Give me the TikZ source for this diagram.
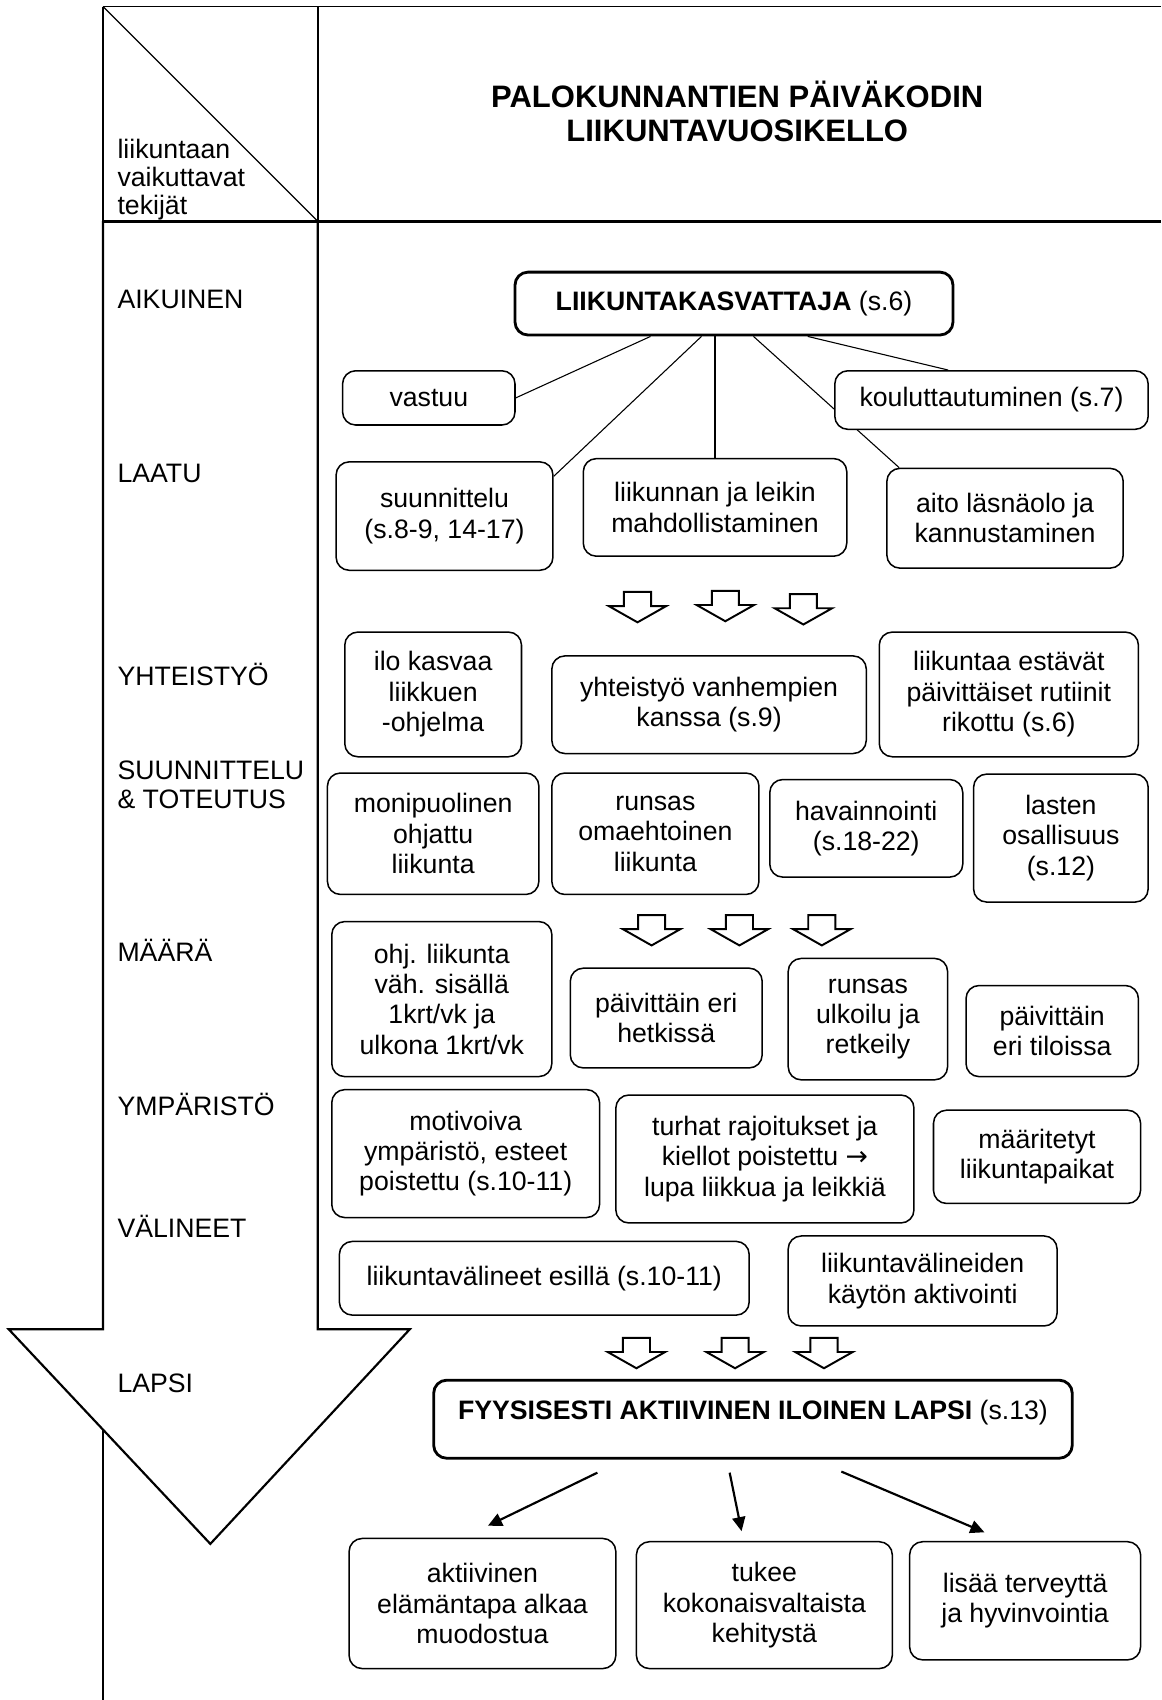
\documentclass[tikz,border=0pt]{standalone}
\usepackage{fontspec}
\setmainfont{Liberation Sans}
\newfontfamily\arrowfont{DejaVu Sans}
\usetikzlibrary{arrows.meta,backgrounds}

\begin{document}
\begin{tikzpicture}[x=0.5pt, y=-0.5pt,
    font=\fontsize{12.3}{14}\selectfont,
    box/.style={draw, rounded corners=6pt, line width=0.7pt, fill=white,
                align=center, inner sep=2pt},
    mainbox/.style={box, line width=1.3pt},
    factor/.style={anchor=base west, inner sep=0pt, align=left},
    branch/.style={line width=0.5pt},
    result/.style={line width=1pt, -{Triangle[length=6.5pt,width=6pt]}},
    downarrow/.pic={\draw[line width=0.9pt, fill=white]
        (-12.5,0) -- (12.5,0) -- (12.5,13) -- (26.5,13) -- (0,28)
        -- (-26.5,13) -- (-12.5,13) -- cycle;}]

  \useasboundingbox (0,0) rectangle (1071,1568);

  % table and the big arrow
  \draw[line width=0.8pt] (95,6) -- (95,1568);
  \draw[line width=1pt, fill=white] (95,204) -- (95,1226) -- (8,1226)
      -- (194,1424) -- (378,1226) -- (293,1226) -- (293,204);
  \draw[line width=0.9pt] (95,6) -- (1071,6);
  \draw[line width=0.8pt] (293,6) -- (293,204);
  \draw[line width=0.5pt] (95,6) -- (293,204);
  \draw[line width=1.3pt] (95,204) -- (1071,204);

  % base of a multi-line node = its last line
  \node[factor, font=\fontsize{12.3}{13}\selectfont] (tekijat) at (108,198)
      {liikuntaan\\vaikuttavat\\tekijät};
  \node[font=\bfseries\fontsize{14.3}{15.5}\selectfont, align=center] (otsikko)
      at (680,103) {PALOKUNNANTIEN PÄIVÄKODIN\\LIIKUNTAVUOSIKELLO};

  % factors
  \foreach \y/\t/\n in {285/AIKUINEN/aikuinen, 445/LAATU/laatu,
      632/YHTEISTYÖ/yhteistyo, 887/MÄÄRÄ/maara, 1029/YMPÄRISTÖ/ymparisto,
      1141/VÄLINEET/valineet, 1284/LAPSI/lapsi}
    \node[factor] (f-\n) at (108,\y) {\t};
  \node[factor, font=\fontsize{12.3}{13.5}\selectfont] (f-toteutus) at (108,746)
      {SUUNNITTELU\\\& TOTEUTUS};

  % adult
  \node[mainbox, minimum width=202pt, minimum height=29pt] (kasvattaja)
      at (677,280) {\textbf{LIIKUNTAKASVATTAJA} (s.6)};
  \node[box, minimum width=79.5pt, minimum height=25pt] (vastuu)
      at (395.5,367) {vastuu};
  \node[box, minimum width=144.5pt, minimum height=27pt] (koulutus)
      at (914.5,369) {kouluttautuminen (s.7)};
  \node[box, minimum width=100pt, minimum height=50pt] (suunnittelu)
      at (410,476) {suunnittelu\\(s.8-9, 14-17)};
  \node[box, minimum width=121.5pt, minimum height=45pt] (mahdollistaminen)
      at (659.5,468) {liikunnan ja leikin\\mahdollistaminen};
  \node[box, minimum width=109pt, minimum height=46pt] (lasnaolo)
      at (927,478) {aito läsnäolo ja\\kannustaminen};

  \begin{scope}[on background layer]
    \draw[branch] ([xshift=-38.5pt]kasvattaja.south) -- (vastuu.east);
    \draw[branch] ([xshift=-15pt]kasvattaja.south) -- (suunnittelu.20);
    \draw[branch] ([xshift=-8.75pt]kasvattaja.south) -- (mahdollistaminen.north);
    \draw[branch] ([xshift=9pt]kasvattaja.south) -- ([xshift=6pt]lasnaolo.north west);
    \draw[branch] ([xshift=34pt]kasvattaja.south) -- ([xshift=-20pt]koulutus.north);
  \end{scope}

  \foreach \x/\y in {588/546, 669/545, 741/548, 601/844, 682/844, 758/844,
      587/1234, 678/1234, 760/1234}
    \pic at (\x,\y) {downarrow};

  % cooperation, planning
  \node[box, minimum width=81.5pt, minimum height=57.5pt] (ilo)
      at (399.5,640.5) {ilo kasvaa\\liikkuen\\-ohjelma};
  \node[box, minimum width=145pt, minimum height=45pt] (vanhemmat)
      at (654,650) {yhteistyö vanhempien\\kanssa (s.9)};
  \node[box, minimum width=119.5pt, minimum height=57.5pt] (rutiinit)
      at (930.5,640.5) {liikuntaa estävät\\päivittäiset rutiinit\\rikottu (s.6)};
  \node[box, minimum width=97.5pt, minimum height=56pt] (ohjattu)
      at (399.5,769) {monipuolinen\\ohjattu\\liikunta};
  \node[box, minimum width=95.5pt, minimum height=56pt] (omaehtoinen)
      at (604.5,769) {runsas\\omaehtoinen\\liikunta};
  \node[box, minimum width=89pt, minimum height=45pt] (havainnointi)
      at (799,764) {havainnointi\\(s.18-22)};
  \node[box, minimum width=80.5pt, minimum height=59pt] (osallisuus)
      at (978.5,773) {lasten\\osallisuus\\(s.12)};

  % amount
  \node[box, minimum width=101.5pt, minimum height=71.5pt] (ohjliikunta)
      at (407.5,921.5) {ohj. liikunta\\väh. sisällä\\1krt/vk ja\\ulkona 1krt/vk};
  \node[box, minimum width=88.5pt, minimum height=46pt] (hetkissa)
      at (614.5,939) {päivittäin eri\\hetkissä};
  \node[box, minimum width=73.5pt, minimum height=56pt] (ulkoilu)
      at (800.5,940) {runsas\\ulkoilu ja\\retkeily};
  \node[box, minimum width=79.5pt, minimum height=42pt] (tiloissa)
      at (970.5,951) {päivittäin\\eri tiloissa};

  % environment, equipment
  \node[box, minimum width=123.5pt, minimum height=59pt] (motivoiva)
      at (429.5,1064) {motivoiva\\ympäristö, esteet\\poistettu (s.10-11)};
  \node[box, minimum width=137.5pt, minimum height=59pt] (rajoitukset)
      at (705.5,1069) {turhat rajoitukset ja\\kiellot poistettu {\arrowfont →}\\lupa liikkua ja leikkiä};
  \node[box, minimum width=95.5pt, minimum height=43pt] (paikat)
      at (956.5,1067) {määritetyt\\liikuntapaikat};
  \node[box, minimum width=189pt, minimum height=34pt] (esilla)
      at (502,1179) {liikuntavälineet esillä (s.10-11)};
  \node[box, minimum width=124pt, minimum height=41.5pt] (aktivointi)
      at (851,1181.5) {liikuntavälineiden\\käytön aktivointi};

  % child
  \node[mainbox, minimum width=294.5pt, minimum height=36pt,
      text height=9pt, text depth=9pt] (lapsi)
      at (694.5,1309) {\textbf{FYYSISESTI AKTIIVINEN ILOINEN LAPSI} (s.13)};
  \node[box, minimum width=123pt, minimum height=60pt] (elamantapa)
      at (445,1479) {aktiivinen\\elämäntapa alkaa\\muodostua};
  \node[box, minimum width=118pt, minimum height=58.5pt] (kehitys)
      at (705,1480.5) {tukee\\kokonaisvaltaista\\kehitystä};
  \node[box, minimum width=106.5pt, minimum height=54.5pt] (terveys)
      at (945.5,1476.5) {lisää terveyttä\\ja hyvinvointia};

  \draw[result] ([xshift=-71.75pt, yshift=-6pt]lapsi.south)
      -- ([xshift=2.5pt, yshift=5.5pt]elamantapa.north);
  \draw[result] ([xshift=-10.75pt, yshift=-6pt]lapsi.south)
      -- ([xshift=-10.5pt, yshift=4.5pt]kehitys.north);
  \draw[result] ([xshift=40.75pt, yshift=-5.5pt]lapsi.south)
      -- ([xshift=-18.75pt, yshift=4pt]terveys.north);
\end{tikzpicture}
\end{document}
